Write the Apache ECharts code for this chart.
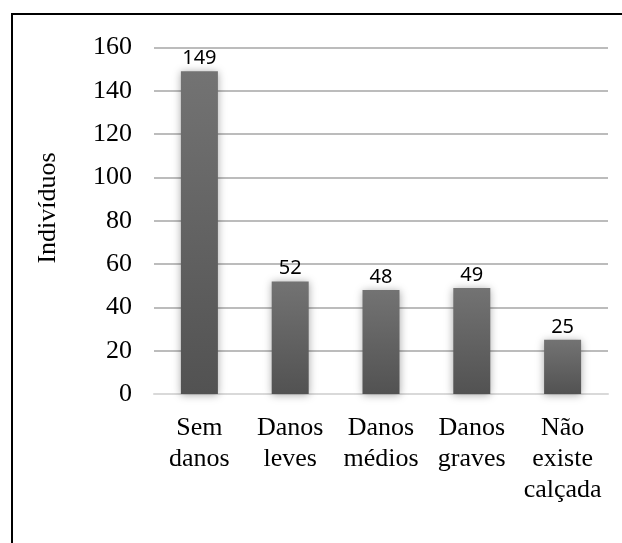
<!DOCTYPE html>
<html>
<head>
<meta charset="utf-8">
<script src="https://cdn.jsdelivr.net/npm/echarts@6/dist/echarts.min.js"></script>
<style>
  html, body { margin: 0; padding: 0; background: #fff; }
  #chart { width: 622px; height: 543px; }
</style>
</head>
<body>
<div id="chart"></div>
<script>
// Sidewalk condition categories and counts of individuals
const categories = ['Sem\ndanos', 'Danos\nleves', 'Danos\nmédios', 'Danos\ngraves', 'Não\nexiste\ncalçada'];
const counts = [149, 52, 48, 49, 25];
const yTicks = { min: 0, max: 160, interval: 20 };
const yTitle = 'Indivíduos';

const serif = '"Liberation Serif", "Times New Roman", serif';

const chart = echarts.init(document.getElementById('chart'), null, { renderer: 'canvas' });

chart.setOption({
  animation: false,
  backgroundColor: '#fff',
  grid: { left: 154, right: 14, top: 47.5, bottom: 149, containLabel: false },
  xAxis: {
    type: 'category',
    data: categories,
    axisLine: { show: true, lineStyle: { color: '#d9d9d9', width: 2 } },
    axisTick: { show: false },
    axisLabel: {
      color: '#000',
      fontFamily: serif,
      fontSize: 26,
      lineHeight: 31,
      margin: 19,
      interval: 0
    }
  },
  yAxis: {
    type: 'value',
    min: yTicks.min,
    max: yTicks.max,
    interval: yTicks.interval,
    axisLine: { show: false },
    axisTick: { show: false },
    axisLabel: { color: '#000', fontFamily: serif, fontSize: 26, margin: 22 },
    splitLine: { lineStyle: { color: '#a6a6a6', width: 1.5 } }
  },
  series: [{
    type: 'bar',
    data: counts,
    barWidth: 37,
    itemStyle: {
      color: new echarts.graphic.LinearGradient(0, 0, 0, 1, [
        { offset: 0, color: '#737373' },
        { offset: 1, color: '#525252' }
      ]),
      shadowBlur: 8,
      shadowColor: 'rgba(0,0,0,0.35)',
      shadowOffsetY: 1
    },
    label: {
      show: true,
      position: 'top',
      distance: 3,
      color: '#000',
      fontFamily: '"Noto Sans", sans-serif',
      fontSize: 20
    }
  }],
  graphic: [
    {
      type: 'rect',
      shape: { x: 12, y: 14, width: 700, height: 700 },
      style: { fill: 'none', stroke: '#000', lineWidth: 2 },
      silent: true
    },
    {
      type: 'text',
      x: 48,
      y: 208,
      rotation: Math.PI / 2,
      style: {
        text: yTitle,
        fill: '#000',
        font: '26px ' + serif,
        textAlign: 'center',
        textVerticalAlign: 'middle'
      }
    }
  ]
});
</script>
</body>
</html>
